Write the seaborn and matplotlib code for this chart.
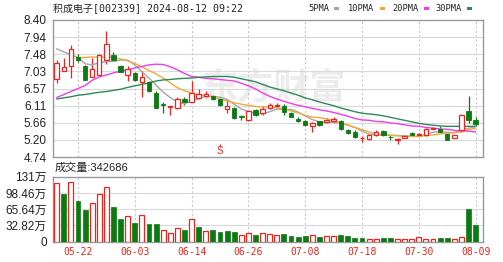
import numpy as np
import pandas as pd
import matplotlib
matplotlib.use("Agg")
import matplotlib.pyplot as plt
import seaborn as sns

# ---------------- data ----------------
dates = ["05-17", "05-20", "05-21", "05-22", "05-23", "05-24", "05-27", "05-28", "05-29", "05-30",
         "05-31", "06-03", "06-04", "06-05", "06-06", "06-07", "06-11", "06-12", "06-13", "06-14",
         "06-17", "06-18", "06-19", "06-20", "06-21", "06-24", "06-25", "06-26", "06-27", "06-28",
         "07-01", "07-02", "07-03", "07-04", "07-05", "07-08", "07-09", "07-10", "07-11", "07-12",
         "07-15", "07-16", "07-17", "07-18", "07-19", "07-22", "07-23", "07-24", "07-25", "07-26",
         "07-29", "07-30", "07-31", "08-01", "08-02", "08-05", "08-06", "08-07", "08-08", "08-09"]

open_ = [6.83, 7.05, 7.16, 7.40, 7.18, 6.89, 6.92, 7.32, 7.47, 7.17,
         6.93, 6.98, 6.75, 6.74, 6.45, 6.15, 6.08, 6.05, 6.28, 6.22,
         6.31, 6.36, 6.37, 6.29, 6.02, 6.05, 5.83, 5.73, 6.00, 5.91,
         6.05, 6.09, 6.11, 5.91, 5.76, 5.69, 5.58, 5.69, 5.67, 5.69,
         5.69, 5.47, 5.42, 5.24, 5.22, 5.33, 5.44, 5.28, 5.19, 5.26,
         5.37, 5.33, 5.33, 5.50, 5.49, 5.35, 5.25, 5.47, 5.97, 5.72]
high = [7.33, 7.38, 7.73, 7.49, 7.19, 7.38, 7.49, 8.11, 7.54, 7.19,
        7.16, 7.00, 7.03, 6.77, 6.49, 6.22, 6.10, 6.34, 6.34, 6.78,
        6.55, 6.49, 6.40, 6.31, 6.25, 6.07, 5.87, 6.00, 6.03, 6.11,
        6.17, 6.19, 6.15, 5.95, 5.80, 5.73, 5.67, 5.71, 5.78, 5.80,
        5.72, 5.50, 5.45, 5.31, 5.36, 5.45, 5.46, 5.33, 5.26, 5.33,
        5.41, 5.38, 5.52, 5.55, 5.58, 5.37, 5.34, 5.88, 6.36, 5.82]
low = [6.71, 7.04, 6.86, 7.29, 6.79, 6.88, 6.90, 7.22, 7.31, 7.00,
       6.76, 6.78, 6.34, 6.48, 6.05, 5.91, 5.87, 6.02, 6.13, 6.20,
       6.29, 6.34, 6.27, 6.09, 5.91, 5.75, 5.73, 5.71, 5.83, 5.87,
       6.03, 6.08, 5.87, 5.80, 5.68, 5.57, 5.42, 5.57, 5.64, 5.66,
       5.46, 5.36, 5.25, 5.14, 5.20, 5.31, 5.30, 5.20, 5.09, 5.25,
       5.30, 5.30, 5.31, 5.48, 5.40, 5.19, 5.24, 5.42, 5.65, 5.57]
close = [7.24, 7.14, 7.62, 7.33, 6.80, 7.09, 7.47, 7.75, 7.33, 7.02,
         7.09, 6.80, 6.87, 6.49, 6.06, 6.12, 6.10, 6.29, 6.22, 6.45,
         6.42, 6.43, 6.29, 6.13, 6.11, 5.78, 5.80, 5.97, 5.85, 6.03,
         6.12, 6.13, 5.94, 5.82, 5.71, 5.60, 5.65, 5.60, 5.73, 5.76,
         5.49, 5.38, 5.27, 5.26, 5.33, 5.42, 5.33, 5.27, 5.21, 5.31,
         5.33, 5.35, 5.49, 5.52, 5.42, 5.20, 5.33, 5.87, 5.73, 5.63]

ma5 = [7.63, 7.55, 7.47, 7.40, 7.23, 7.20, 7.26, 7.29, 7.29, 7.33,
       7.33, 7.20, 7.02, 6.85, 6.66, 6.47, 6.33, 6.21, 6.16, 6.24,
       6.30, 6.36, 6.36, 6.34, 6.28, 6.15, 6.02, 5.96, 5.90, 5.89,
       5.95, 6.02, 6.01, 6.01, 5.94, 5.84, 5.74, 5.68, 5.66, 5.67,
       5.65, 5.59, 5.53, 5.43, 5.35, 5.33, 5.32, 5.32, 5.31, 5.31,
       5.29, 5.29, 5.34, 5.40, 5.42, 5.40, 5.39, 5.47, 5.51, 5.55]
ma10 = [np.nan, np.nan, np.nan, 7.37, 7.40, 7.41, 7.41, 7.41, 7.40, 7.36,
        7.31, 7.24, 7.15, 7.05, 6.96, 6.85, 6.72, 6.59, 6.51, 6.45,
        6.41, 6.37, 6.35, 6.29, 6.24, 6.19, 6.15, 6.12, 6.09, 6.08,
        6.07, 6.05, 6.03, 5.97, 5.92, 5.85, 5.81, 5.79, 5.76, 5.71,
        5.65, 5.60, 5.53, 5.47, 5.41, 5.36, 5.33, 5.32, 5.31, 5.29,
        5.29, 5.29, 5.31, 5.33, 5.36, 5.37, 5.39, 5.41, 5.47, 5.51]
ma20 = [6.33, 6.41, 6.49, 6.57, 6.65, 6.79, 6.88, 6.93, 6.99, 7.03,
        7.07, 7.12, 7.16, 7.20, 7.22, 7.21, 7.15, 7.07, 6.97, 6.89,
        6.87, 6.84, 6.83, 6.81, 6.79, 6.77, 6.71, 6.64, 6.56, 6.45,
        6.36, 6.29, 6.23, 6.17, 6.12, 6.08, 6.04, 6.00, 5.97, 5.93,
        5.88, 5.83, 5.77, 5.73, 5.72, 5.69, 5.68, 5.65, 5.63, 5.60,
        5.57, 5.56, 5.53, 5.51, 5.49, 5.48, 5.45, 5.44, 5.43, 5.41]
ma30 = [6.29, 6.32, 6.35, 6.39, 6.41, 6.44, 6.47, 6.49, 6.52, 6.55,
        6.60, 6.64, 6.68, 6.72, 6.77, 6.80, 6.81, 6.83, 6.84, 6.85,
        6.87, 6.88, 6.89, 6.89, 6.89, 6.87, 6.83, 6.79, 6.75, 6.68,
        6.61, 6.56, 6.51, 6.45, 6.39, 6.32, 6.27, 6.21, 6.16, 6.11,
        6.05, 6.00, 5.95, 5.91, 5.89, 5.87, 5.84, 5.80, 5.76, 5.72,
        5.68, 5.64, 5.61, 5.59, 5.57, 5.56, 5.56, 5.56, 5.56, 5.56]

volume = [117.8, 95.4, 121.0, 81.7, 63.3, 77.0, 96.0, 109.6, 69.4, 46.3,
          51.7, 37.4, 54.5, 34.7, 34.7, 22.5, 17.8, 26.5, 23.1, 46.3,
          28.6, 21.4, 24.1, 19.8, 21.8, 19.8, 12.9, 17.8, 13.6, 17.8,
          15.6, 13.6, 14.3, 11.6, 8.2, 10.2, 13.6, 8.2, 10.9, 10.2,
          13.6, 10.2, 7.5, 7.5, 5.4, 5.4, 7.5, 7.5, 4.1, 4.1,
          5.4, 8.9, 6.0, 5.0, 7.0, 8.0, 6.0, 9.0, 66.0, 34.27]
vol_up = [1, 0, 1, 0, 0, 1, 1, 1, 0, 0,
          1, 0, 1, 0, 0, 1, 1, 1, 0, 1,
          0, 1, 0, 0, 0, 0, 1, 1, 0, 1,
          1, 1, 0, 0, 0, 0, 1, 0, 1, 1,
          0, 0, 0, 0, 1, 1, 0, 0, 1, 1,
          1, 1, 1, 1, 0, 0, 1, 1, 0, 0]

tick_dates = ["05-22", "06-03", "06-14", "06-26", "07-08", "07-18", "07-30", "08-09"]
price_ticks = [4.74, 5.20, 5.66, 6.11, 6.57, 7.03, 7.48, 7.94, 8.40]
vol_ticks = [0, 32.82, 65.64, 98.46, 131.28]
vol_tick_labels = ["0", "32.82万", "65.64万", "98.46万", "131万"]

title_text = "积成电子[002339] 2024-08-12 09:22"
vol_title = "成交量:342686"
ma_names = ["5PMA", "10PMA", "20PMA", "30PMA"]

# ---------------- style ----------------
sns.set_style("white")
plt.rcParams["font.family"] = ["Liberation Sans", "Noto Sans CJK SC", "DejaVu Sans"]

RED = "#e8261f"
GREEN = "#0b7a12"
MA_COLORS = ["#a6a6a6", "#f2a93b", "#ee3de8", "#2f8a5a"]
GRID = "#d9d9d9"
SPINE = "#9a9a9a"
MONO = ["DejaVu Sans Mono", "Noto Sans CJK SC"]
CJK = ["Liberation Sans", "Noto Sans CJK SC"]

df = pd.DataFrame({"date": dates, "open": open_, "high": high, "low": low,
                   "close": close, "ma5": ma5, "ma10": ma10, "ma20": ma20,
                   "ma30": ma30, "volume": volume, "vol_up": vol_up})
df["x"] = np.arange(len(df))

W, H = 503, 262
fig = plt.figure(figsize=(W / 100, H / 100), dpi=100)
ax = fig.add_axes([53 / W, 1 - 157 / H, 430 / W, 137 / H])
axv = fig.add_axes([53 / W, 1 - 241.5 / H, 430 / W, 64.8 / H])

xlim = (-0.52, 60.04)
tick_pos = [dates.index(d) for d in tick_dates]

# watermark
ax.text(30.7, 6.58, "东方财富", fontsize=26, color="#ececec", ha="center", va="center",
        family=["Noto Sans CJK SC"], fontweight="bold", zorder=0.5)

# candles
up = df["close"] >= df["open"]
ax.vlines(df["x"], df["low"], df["high"], colors=np.where(up, RED, GREEN), lw=0.9, zorder=2)
body_bottom = np.minimum(df["open"], df["close"])
body_h = np.maximum(np.abs(df["close"] - df["open"]), 0.012)
ax.bar(df["x"][up], body_h[up], bottom=body_bottom[up], width=0.62,
       facecolor="white", edgecolor=RED, linewidth=0.9, zorder=3)
ax.bar(df["x"][~up], body_h[~up], bottom=body_bottom[~up], width=0.62,
       facecolor=GREEN, edgecolor=GREEN, linewidth=0.6, zorder=3)

# moving averages
for col, c in zip(["ma5", "ma10", "ma20", "ma30"], MA_COLORS):
    sns.lineplot(data=df, x="x", y=col, ax=ax, color=c, lw=1.0, zorder=2.5)

# volume bars
vu = df["vol_up"] == 1
axv.bar(df["x"][vu], df["volume"][vu], width=0.68, facecolor="white",
        edgecolor=RED, linewidth=0.9, zorder=3)
axv.bar(df["x"][~vu], df["volume"][~vu], width=0.68, facecolor=GREEN,
        edgecolor=GREEN, linewidth=0.5, zorder=3)

for a in (ax, axv):
    a.set_xlim(*xlim)
    a.set_xlabel("")
    a.set_ylabel("")
    for s in a.spines.values():
        s.set_color(SPINE)
        s.set_linewidth(1.0)
    for p in tick_pos:
        a.axvline(p, color="#c8c8c8", lw=0.8, ls=(0, (2, 2)), zorder=1)

ax.set_ylim(4.74, 8.40)
ax.set_yticks(price_ticks)
ax.set_yticklabels([f"{v:.2f}" for v in price_ticks])
for v in price_ticks[1:-1]:
    ax.axhline(v, color=GRID, lw=0.8, zorder=1)
ax.set_xticks([])
ax.tick_params(axis="y", length=3, width=0.8, color=SPINE, pad=1.5,
               labelsize=8.5, labelcolor="#222222")

axv.set_ylim(0, 131.28)
axv.set_yticks(vol_ticks)
axv.set_yticklabels(vol_tick_labels)
for v in vol_ticks[1:-1]:
    axv.axhline(v, color=GRID, lw=0.8, zorder=1)
axv.tick_params(axis="y", length=3, width=0.8, color=SPINE, pad=1.5,
                labelsize=8.5, labelcolor="#222222")
axv.set_xticks(tick_pos)
axv.set_xticklabels(tick_dates, family=MONO, fontsize=7, color=RED)
axv.tick_params(axis="x", length=0, pad=4)

# dividend marker
ax.text(23, 4.90, "S", color=RED, fontsize=7, ha="center", va="center", zorder=4)
ax.vlines(23, 5.02, 5.08, colors=RED, lw=0.8, zorder=4)

# title and legend
fig.text(53 / W, 1 - 8.5 / H, title_text, family=MONO, fontsize=7.2, color="#222222",
         ha="left", va="center")
leg_x = [308, 348, 392, 435]
for name, lx, c in zip(ma_names, leg_x, MA_COLORS):
    t = fig.text(lx / W, 1 - 8.5 / H, name, family=MONO, fontsize=6.2, color="#222222",
                 ha="left", va="center")
    sq_x = lx + 6.0 * len(name) + 2
    fig.patches.append(plt.Rectangle((sq_x / W, 1 - 10 / H), 5 / W, 3 / H,
                                     transform=fig.transFigure, facecolor=c,
                                     edgecolor="none"))

fig.text(55 / W, 1 - 168 / H, vol_title, family=CJK, fontsize=8, color="#222222",
         ha="left", va="center")

fig.savefig("out.png", dpi=100, facecolor="white")
